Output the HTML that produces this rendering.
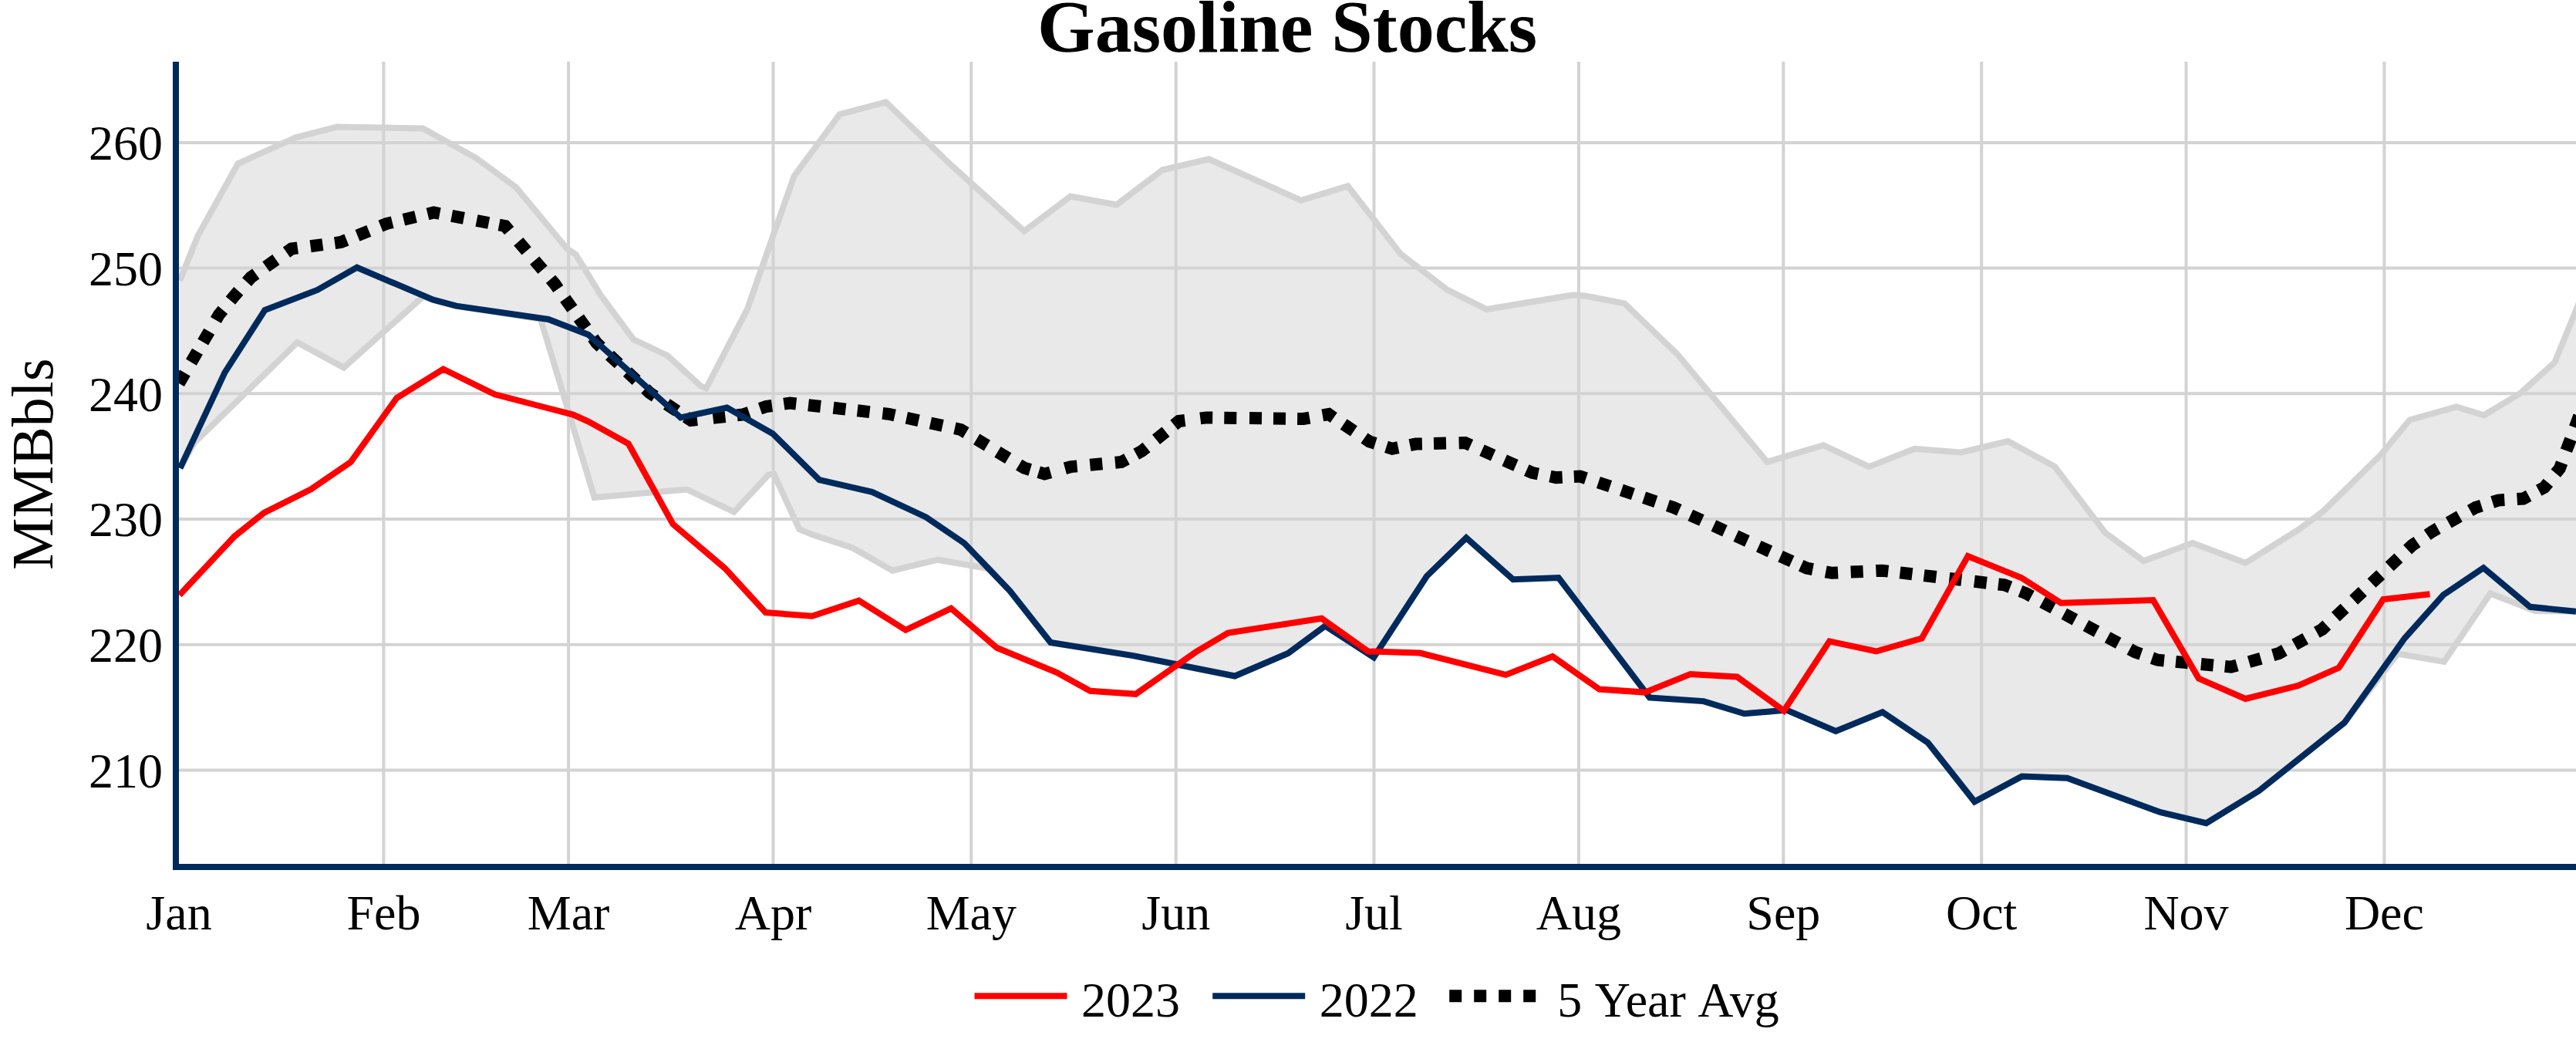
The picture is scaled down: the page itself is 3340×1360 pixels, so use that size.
<!DOCTYPE html>
<html><head><meta charset="utf-8"><title>Gasoline Stocks</title>
<style>
html,body{margin:0;padding:0;background:#fff;}
body{width:3340px;height:1360px;overflow:hidden;}
svg{display:block;}
text{font-family:"Liberation Serif",serif;fill:#000;}
</style></head><body>
<svg width="3340" height="1360" viewBox="0 0 3340 1360">
<rect x="0" y="0" width="3340" height="1360" fill="#fff"/>
<defs><clipPath id="pa"><rect x="232" y="80" width="3108" height="1040"/></clipPath></defs>
<g stroke="#d3d3d3" stroke-width="4"><line x1="232" y1="998.4" x2="3340" y2="998.4"/><line x1="232" y1="835.7" x2="3340" y2="835.7"/><line x1="232" y1="673.0" x2="3340" y2="673.0"/><line x1="232" y1="510.3" x2="3340" y2="510.3"/><line x1="232" y1="347.6" x2="3340" y2="347.6"/><line x1="232" y1="184.9" x2="3340" y2="184.9"/><line x1="497.4" y1="80" x2="497.4" y2="1120"/><line x1="737.1" y1="80" x2="737.1" y2="1120"/><line x1="1002.5" y1="80" x2="1002.5" y2="1120"/><line x1="1259.3" y1="80" x2="1259.3" y2="1120"/><line x1="1524.7" y1="80" x2="1524.7" y2="1120"/><line x1="1781.5" y1="80" x2="1781.5" y2="1120"/><line x1="2046.9" y1="80" x2="2046.9" y2="1120"/><line x1="2312.3" y1="80" x2="2312.3" y2="1120"/><line x1="2569.2" y1="80" x2="2569.2" y2="1120"/><line x1="2834.5" y1="80" x2="2834.5" y2="1120"/><line x1="3091.4" y1="80" x2="3091.4" y2="1120"/></g>
<g clip-path="url(#pa)">
<polygon points="233.0,364.0 256.5,305.7 308.6,212.0 384.0,178.0 436.9,164.5 548.4,166.5 617.6,205.0 669.2,243.0 735.3,322.5 746.5,329.8 779.0,383.0 821.3,440.0 865.6,461.0 908.0,500.0 915.5,503.5 968.9,400.8 1029.7,228.1 1088.7,148.2 1148.7,132.4 1231.7,212.6 1328.0,299.6 1388.0,254.5 1447.7,265.4 1507.4,220.3 1567.4,206.3 1687.0,259.8 1747.6,241.2 1816.0,329.1 1876.3,375.7 1927.6,401.0 2039.5,382.5 2055.0,383.5 2106.3,393.4 2174.6,459.0 2291.2,598.9 2364.2,577.2 2423.3,605.1 2482.3,581.8 2543.0,586.5 2603.6,572.0 2664.3,605.1 2729.6,690.6 2779.3,727.3 2843.0,704.0 2911.4,729.8 2981.3,686.0 3012.4,662.6 3087.0,589.6 3124.3,544.5 3184.9,527.4 3220.7,538.3 3267.3,510.3 3312.3,469.9 3345.0,390.0 3340.0,792.7 3287.0,792.0 3229.0,769.5 3168.9,857.9 3108.9,847.6 3039.7,937.0 2928.9,1025.3 2860.6,1067.2 2801.6,1053.2 2680.4,1008.8 2621.4,1006.6 2560.2,1039.3 2499.8,963.0 2440.8,923.2 2380.2,948.0 2316.5,920.5 2261.7,925.3 2208.8,909.1 2138.9,904.5 2020.8,749.0 1961.8,751.2 1901.1,697.3 1849.9,747.0 1781.2,852.3 1718.1,811.5 1670.1,846.9 1601.0,876.5 1469.4,850.1 1362.2,833.0 1309.4,766.1 1283.0,737.5 1216.1,725.7 1157.1,739.7 1105.8,710.5 1053.0,693.1 1036.4,686.2 1003.5,614.6 996.6,615.3 951.6,663.7 890.5,634.5 770.7,645.0 701.0,413.8 591.5,396.7 561.7,388.7 548.5,384.5 445.7,476.6 385.5,444.0 252.0,574.0 233.5,607.0" fill="rgba(211,211,211,0.5)" stroke="none"/>
<polyline points="233.0,364.0 256.5,305.7 308.6,212.0 384.0,178.0 436.9,164.5 548.4,166.5 617.6,205.0 669.2,243.0 735.3,322.5 746.5,329.8 779.0,383.0 821.3,440.0 865.6,461.0 908.0,500.0 915.5,503.5 968.9,400.8 1029.7,228.1 1088.7,148.2 1148.7,132.4 1231.7,212.6 1328.0,299.6 1388.0,254.5 1447.7,265.4 1507.4,220.3 1567.4,206.3 1687.0,259.8 1747.6,241.2 1816.0,329.1 1876.3,375.7 1927.6,401.0 2039.5,382.5 2055.0,383.5 2106.3,393.4 2174.6,459.0 2291.2,598.9 2364.2,577.2 2423.3,605.1 2482.3,581.8 2543.0,586.5 2603.6,572.0 2664.3,605.1 2729.6,690.6 2779.3,727.3 2843.0,704.0 2911.4,729.8 2981.3,686.0 3012.4,662.6 3087.0,589.6 3124.3,544.5 3184.9,527.4 3220.7,538.3 3267.3,510.3 3312.3,469.9 3345.0,390.0" fill="none" stroke="#d3d3d3" stroke-width="8"/>
<polyline points="233.5,607.0 252.0,574.0 385.5,444.0 445.7,476.6 548.5,384.5 561.7,388.7 591.5,396.7 701.0,413.8 770.7,645.0 890.5,634.5 951.6,663.7 996.6,615.3 1003.5,614.6 1036.4,686.2 1053.0,693.1 1105.8,710.5 1157.1,739.7 1216.1,725.7 1283.0,737.5 1309.4,766.1 1362.2,833.0 1469.4,850.1 1601.0,876.5 1670.1,846.9 1718.1,811.5 1781.2,852.3 1849.9,747.0 1901.1,697.3 1961.8,751.2 2020.8,749.0 2138.9,904.5 2208.8,909.1 2261.7,925.3 2316.5,920.5 2380.2,948.0 2440.8,923.2 2499.8,963.0 2560.2,1039.3 2621.4,1006.6 2680.4,1008.8 2801.6,1053.2 2860.6,1067.2 2928.9,1025.3 3039.7,937.0 3108.9,847.6 3168.9,857.9 3229.0,769.5 3287.0,792.0 3340.0,792.7" fill="none" stroke="#d3d3d3" stroke-width="8"/>
<g fill="none" stroke="#000" stroke-width="16" stroke-linejoin="miter"><polyline points="232.0,497.0 239.9,483.5"/><polyline points="247.9,469.6 256.0,455.8"/><polyline points="263.2,443.5 271.3,429.7"/><polyline points="279.9,414.9 283.9,408.0 289.0,401.8"/><polyline points="298.9,389.6 304.0,383.4 309.3,377.4"/><polyline points="320.0,365.6 325.3,359.6 331.8,355.0"/><polyline points="344.9,345.8 357.9,336.6"/><polyline points="371.5,327.1 378.0,322.5 385.9,321.4"/><polyline points="402.6,319.2 418.4,317.1"/><polyline points="434.1,315.1 442.0,314.0 449.4,311.0"/><polyline points="463.5,305.3 478.3,299.3"/><polyline points="493.5,293.1 500.9,290.1 508.7,288.2"/><polyline points="523.4,284.7 539.0,281.0"/><polyline points="554.5,277.4 562.3,275.5 570.2,277.0"/><polyline points="585.7,279.9 601.4,282.9"/><polyline points="618.0,286.0 633.7,289.0"/><polyline points="647.1,291.5 655.0,293.0 660.2,299.1"/><polyline points="672.3,313.2 682.7,325.4"/><polyline points="693.2,337.6 703.6,349.7"/><polyline points="714.0,361.9 719.2,368.0 723.8,374.5"/><polyline points="732.7,387.1 742.0,400.1"/><polyline points="750.5,412.2 759.8,425.3"/><polyline points="768.8,438.0 773.4,444.5 779.2,450.0"/><polyline points="790.5,460.6 802.2,471.5"/><polyline points="813.4,482.1 825.1,493.1"/><polyline points="836.8,504.0 842.6,509.5 849.3,513.9"/><polyline points="864.4,524.0 877.8,532.9"/><polyline points="889.3,540.6 896.0,545.0 904.0,544.1"/><polyline points="924.5,541.8 940.4,540.0"/><polyline points="955.7,538.3 963.7,537.4 971.3,534.8"/><polyline points="985.5,529.7 993.1,527.1 1001.0,526.0"/><polyline points="1016.4,523.7 1024.3,522.6 1032.3,523.5"/><polyline points="1048.1,525.2 1064.0,527.0"/><polyline points="1080.6,528.8 1096.5,530.6"/><polyline points="1111.7,532.3 1127.6,534.1"/><polyline points="1144.4,535.9 1152.4,536.8 1160.2,538.5"/><polyline points="1175.4,541.8 1191.1,545.2"/><polyline points="1206.4,548.5 1222.1,551.9"/><polyline points="1237.9,555.3 1245.7,557.0 1252.5,561.1"/><polyline points="1266.2,569.4 1279.9,577.6"/><polyline points="1293.5,585.9 1307.2,594.2"/><polyline points="1321.2,602.6 1328.0,606.7 1335.7,609.0"/><polyline points="1346.7,612.2 1354.4,614.5 1362.1,612.4"/><polyline points="1380.9,607.2 1388.6,605.1 1396.6,604.4"/><polyline points="1413.3,602.8 1429.3,601.3"/><polyline points="1445.9,599.7 1453.9,599.0 1461.0,595.2"/><polyline points="1473.2,588.7 1480.3,584.9 1486.5,579.9"/><polyline points="1499.0,569.8 1511.5,559.7"/><polyline points="1522.3,551.0 1528.5,546.0 1536.4,545.0"/><polyline points="1556.3,542.4 1564.2,541.4 1572.2,541.5"/><polyline points="1587.3,541.7 1603.3,541.9"/><polyline points="1620.0,542.1 1636.0,542.3"/><polyline points="1651.0,542.5 1667.0,542.7"/><polyline points="1682.1,542.9 1690.1,543.0 1698.0,541.6"/><polyline points="1714.8,538.4 1722.7,537.0 1729.3,541.5"/><polyline points="1742.1,550.0 1755.4,558.9"/><polyline points="1769.0,568.0 1775.6,572.5 1783.2,574.9"/><polyline points="1797.5,579.4 1805.1,581.8 1812.9,580.2"/><polyline points="1828.1,577.2 1835.9,575.6 1843.9,575.4"/><polyline points="1859.0,575.0 1875.0,574.6"/><polyline points="1891.6,574.2 1899.6,574.0 1906.9,577.3"/><polyline points="1921.5,583.8 1936.1,590.3"/><polyline points="1950.7,596.9 1965.4,603.4"/><polyline points="1979.3,609.6 1986.6,612.9 1994.4,614.5"/><polyline points="2009.9,617.5 2017.7,619.1 2025.7,618.7"/><polyline points="2040.8,618.0 2048.8,617.6 2056.4,620.1"/><polyline points="2072.4,625.5 2087.6,630.5"/><polyline points="2102.3,635.4 2117.4,640.5"/><polyline points="2131.6,645.2 2146.8,650.3"/><polyline points="2162.4,655.5 2170.0,658.0 2177.3,661.3"/><polyline points="2191.8,667.9 2206.4,674.6"/><polyline points="2221.9,681.6 2236.4,688.3"/><polyline points="2250.8,694.8 2265.4,701.5"/><polyline points="2280.3,708.3 2294.9,714.9"/><polyline points="2308.6,721.2 2323.2,727.8"/><polyline points="2335.2,733.3 2342.5,736.6 2350.4,738.1"/><polyline points="2367.2,741.3 2375.1,742.8 2383.1,742.4"/><polyline points="2399.7,741.6 2415.7,740.9"/><polyline points="2432.4,740.1 2440.4,739.7 2448.3,740.6"/><polyline points="2463.5,742.4 2479.4,744.3"/><polyline points="2494.6,746.1 2510.5,748.0"/><polyline points="2527.4,750.0 2543.3,751.8"/><polyline points="2559.9,753.8 2575.8,755.7"/><polyline points="2591.0,757.5 2598.9,758.4 2606.4,761.3"/><polyline points="2619.5,766.4 2627.0,769.3 2634.0,773.1"/><polyline points="2648.1,780.7 2662.2,788.3"/><polyline points="2676.3,795.8 2690.4,803.4"/><polyline points="2704.5,811.0 2718.6,818.6"/><polyline points="2732.6,826.2 2746.7,833.7"/><polyline points="2761.4,841.6 2768.4,845.4 2776.0,848.0"/><polyline points="2790.4,853.1 2798.0,855.7 2806.0,856.5"/><polyline points="2821.1,857.9 2837.0,859.4"/><polyline points="2853.9,861.0 2869.8,862.5"/><polyline points="2884.8,863.9 2892.8,864.7 2900.5,862.5"/><polyline points="2916.0,858.1 2931.4,853.7"/><polyline points="2947.2,849.2 2954.9,847.0 2961.9,843.1"/><polyline points="2975.2,835.7 2989.2,827.9"/><polyline points="3003.9,819.8 3010.9,815.9 3016.7,810.4"/><polyline points="3028.4,799.6 3040.1,788.7"/><polyline points="3051.7,777.8 3063.4,766.9"/><polyline points="3075.0,756.0 3086.7,745.1"/><polyline points="3098.2,734.3 3109.9,723.4"/><polyline points="3121.6,712.6 3127.4,707.1 3134.0,702.6"/><polyline points="3147.2,693.5 3153.8,689.0 3160.8,685.1"/><polyline points="3174.8,677.4 3188.8,669.6"/><polyline points="3202.8,661.9 3209.8,658.0 3217.4,655.6"/><polyline points="3231.7,651.0 3239.3,648.6 3247.3,648.1"/><polyline points="3263.6,647.0 3271.6,646.5 3278.7,642.7"/><polyline points="3291.7,635.8 3298.8,632.0 3303.9,625.8"/><polyline points="3313.7,613.7 3318.8,607.5 3321.6,600.0"/><polyline points="3327.4,584.3 3333.0,569.3"/><polyline points="3338.6,554.3 3344.1,539.3"/></g>
<polyline points="233.5,607.0 291.5,482.9 343.4,402.1 411.5,375.9 462.8,346.8 561.7,388.7 591.5,396.7 711.0,414.0 763.0,434.0 882.5,541.4 942.5,528.6 1001.9,562.2 1062.3,622.2 1130.7,637.8 1200.6,670.4 1250.3,704.3 1309.4,766.1 1362.2,833.0 1469.4,850.1 1601.0,876.5 1670.1,846.9 1718.1,811.5 1781.2,852.3 1849.9,747.0 1901.1,697.3 1961.8,751.2 2020.8,749.0 2138.9,904.5 2208.8,909.1 2261.7,925.3 2316.5,920.5 2380.2,948.0 2440.8,923.2 2499.8,963.0 2560.2,1039.3 2621.4,1006.6 2680.4,1008.8 2801.6,1053.2 2860.6,1067.2 2928.9,1025.3 3039.7,937.0 3117.8,827.5 3168.0,771.3 3220.0,736.3 3280.5,786.8 3340.0,792.7" fill="none" stroke="#002a5c" stroke-width="8"/>
<polyline points="232.6,771.6 304.1,695.3 342.2,664.8 403.2,634.3 454.7,599.1 514.3,516.0 574.7,478.5 641.5,511.3 709.8,529.0 743.0,537.6 763.0,546.5 814.8,575.3 872.5,679.5 939.8,736.6 992.7,794.1 1053.0,798.8 1113.6,778.6 1174.2,816.8 1233.2,788.8 1292.3,839.8 1370.0,871.8 1413.5,895.7 1472.6,899.8 1550.3,845.4 1592.2,820.5 1713.6,801.8 1773.9,844.5 1841.0,846.5 1952.4,874.9 2013.0,851.0 2073.6,893.6 2132.7,897.6 2191.7,874.0 2252.3,877.4 2313.0,921.5 2372.0,831.4 2432.6,844.5 2491.7,827.7 2551.5,721.1 2620.8,749.0 2672.1,781.7 2791.7,778.0 2850.8,879.6 2911.4,906.0 2979.8,888.9 3032.6,865.6 3090.1,777.0 3150.5,770.3" fill="none" stroke="#ff0000" stroke-width="8"/>
</g>
<rect x="224" y="80" width="8" height="1048" fill="#002a5c"/>
<rect x="224" y="1120" width="3116" height="8" fill="#002a5c"/>
<text x="211" y="1020.6" font-size="64" text-anchor="end">210</text>
<text x="211" y="857.9" font-size="64" text-anchor="end">220</text>
<text x="211" y="695.2" font-size="64" text-anchor="end">230</text>
<text x="211" y="532.5" font-size="64" text-anchor="end">240</text>
<text x="211" y="369.8" font-size="64" text-anchor="end">250</text>
<text x="211" y="207.1" font-size="64" text-anchor="end">260</text>
<text x="232.0" y="1204.8" font-size="64" text-anchor="middle">Jan</text>
<text x="497.4" y="1204.8" font-size="64" text-anchor="middle">Feb</text>
<text x="737.1" y="1204.8" font-size="64" text-anchor="middle">Mar</text>
<text x="1002.5" y="1204.8" font-size="64" text-anchor="middle">Apr</text>
<text x="1259.3" y="1204.8" font-size="64" text-anchor="middle">May</text>
<text x="1524.7" y="1204.8" font-size="64" text-anchor="middle">Jun</text>
<text x="1781.5" y="1204.8" font-size="64" text-anchor="middle">Jul</text>
<text x="2046.9" y="1204.8" font-size="64" text-anchor="middle">Aug</text>
<text x="2312.3" y="1204.8" font-size="64" text-anchor="middle">Sep</text>
<text x="2569.2" y="1204.8" font-size="64" text-anchor="middle">Oct</text>
<text x="2834.5" y="1204.8" font-size="64" text-anchor="middle">Nov</text>
<text x="3091.4" y="1204.8" font-size="64" text-anchor="middle">Dec</text>
<text x="1669" y="66.5" font-size="96" font-weight="bold" text-anchor="middle">Gasoline Stocks</text>
<text transform="translate(67.7,601.8) rotate(-90)" x="0" y="0" font-size="76" text-anchor="middle">MMBbls</text>
<line x1="1263.5" y1="1291.2" x2="1383.5" y2="1291.2" stroke="#ff0000" stroke-width="8"/>
<text x="1402" y="1317.7" font-size="64">2023</text>
<line x1="1572.2" y1="1291.2" x2="1692.2" y2="1291.2" stroke="#002a5c" stroke-width="8"/>
<text x="1710.7" y="1317.7" font-size="64">2022</text>
<line x1="1879.2" y1="1291.2" x2="1999.2" y2="1291.2" stroke="#000" stroke-width="16" stroke-dasharray="16,16"/>
<text x="2019.2" y="1317.7" font-size="64" word-spacing="3">5 Year Avg</text>
</svg>
</body></html>
